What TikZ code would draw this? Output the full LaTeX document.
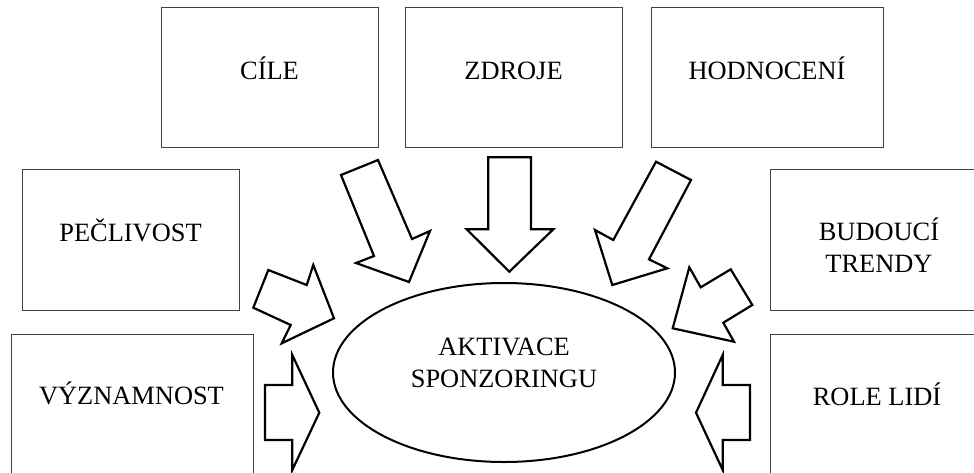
\documentclass[tikz,border=0pt]{standalone}
\usepackage{fontspec}
\setmainfont{Liberation Serif}
\begin{document}
\begin{tikzpicture}[x=1pt,y=-1pt,
  box/.style={draw=black!75, line width=1pt, rectangle, inner sep=0pt},
  lbl/.style={anchor=base, inner sep=0pt, font=\fontsize{26.4}{31.7}\selectfont, align=center},
  blockarrow/.style={draw=black, line width=2.2pt, line join=miter, fill=white},
  hub/.style={draw=black, line width=2pt, ellipse, inner sep=0pt}]
\useasboundingbox (0,0) rectangle (974,472);
\clip (0,0) rectangle (974,472);
% boxes
\draw[box] (161,7) rectangle (378,147);
\draw[box] (405,7) rectangle (622,147);
\draw[box] (651,7) rectangle (883,147);
\draw[box] (22,169) rectangle (239,310);
\draw[box] (770,169) rectangle (990,310);
\draw[box] (11,334) rectangle (253,510);
\draw[box] (770,334) rectangle (990,510);
% labels
\node[lbl] (tcile) at (269.5,79) {CÍLE};
\node[lbl] (tzdroje) at (513.5,79) {ZDROJE};
\node[lbl] (thodn) at (767,79) {HODNOCENÍ};
\node[lbl] (tpecl) at (130.5,241) {PEČLIVOST};
\node[lbl] (tbud) at (879,240) {BUDOUCÍ};
\node[lbl] (ttrend) at (879,272) {TRENDY};
\node[lbl] (tvyz) at (131.5,404) {VÝZNAMNOST};
\node[lbl] (trole) at (877,405) {ROLE LIDÍ};
% central ellipse
\draw[line width=2pt] (504,372.5) ellipse [x radius=171, y radius=89.5];
\node[lbl] (takt) at (504,355) {AKTIVACE};
\node[lbl] (tspon) at (504,387) {SPONZORINGU};
% block arrows
\draw[blockarrow] (341,175) -- (378,160) -- (412,239) -- (430,231) -- (409,282) -- (356,263) -- (374,256) -- cycle;
\draw[blockarrow] (488.3,157.3) -- (531,157.3) -- (531,229.3) -- (553.3,229.3) -- (509.3,271.7) -- (466.7,229.3) -- (488.3,229.3) -- cycle;
\draw[blockarrow] (656,161.7) -- (691,180) -- (649,259.3) -- (667.3,268.3) -- (612.3,285) -- (595,230) -- (613.3,240) -- cycle;
\draw[blockarrow] (268.3,270) -- (306.7,285) -- (313.3,265) -- (334,318.3) -- (281.7,343.3) -- (290.7,325) -- (253.3,307.7) -- cycle;
\draw[blockarrow] (265,385) -- (292.3,385) -- (292.3,355) -- (319.3,412.7) -- (292.3,470) -- (292.3,440) -- (265,440) -- cycle;
\draw[blockarrow] (730.7,269.3) -- (752.3,305) -- (723.3,322.7) -- (734,341.7) -- (672.7,328.3) -- (689.3,267.3) -- (700.7,287.3) -- cycle;
\draw[blockarrow] (750,385) -- (722.7,385) -- (722.7,355) -- (696,412.7) -- (722.7,470) -- (722.7,440) -- (750,440) -- cycle;
\end{tikzpicture}
\end{document}
